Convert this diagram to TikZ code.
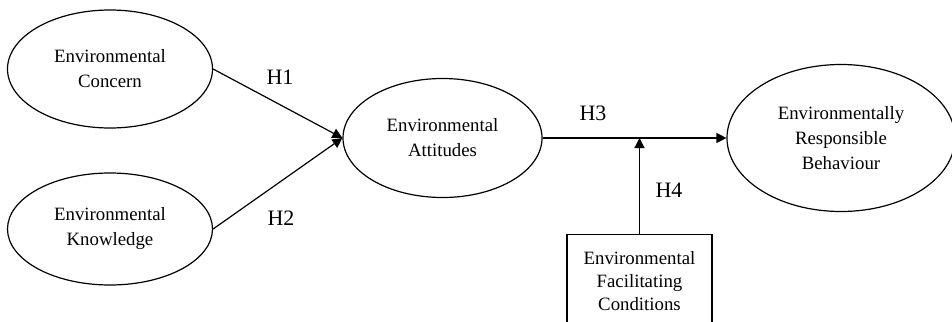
\documentclass[tikz,border=0pt]{standalone}
\usepackage{fontspec}
\setmainfont{Liberation Serif}
\usetikzlibrary{shapes.geometric}
\usetikzlibrary{arrows.meta}

\begin{document}
\begin{tikzpicture}[x=0.5pt,y=-0.5pt,
  construct/.style={ellipse,draw,semithick,inner sep=0pt,align=center,font=\fontsize{9.4}{12.5}\selectfont},
  hyp/.style={font=\fontsize{11}{13}\selectfont},
  path/.style={semithick,-{Triangle[length=5pt,width=5pt]}}]
\clip (0,0) rectangle (952,321);
\useasboundingbox (0,0) rectangle (952,321);

\node[construct,minimum width=102.5pt,minimum height=59pt] (conc) at (110,69) {Environmental\\Concern};
\node[construct,minimum width=102.5pt,minimum height=56pt] (know) at (110,229) {Environmental\\Knowledge};
\node[construct,minimum width=99.5pt,minimum height=59.5pt] (att) at (442.5,138) {Environmental\\Attitudes};
\node[construct,minimum width=114pt,minimum height=73.5pt] (resp) at (841,138) {Environmentally\\Responsible\\Behaviour};
\node[draw,semithick,anchor=north,align=center,minimum width=72.5pt,minimum height=46pt,font=\fontsize{9.4}{11.5}\selectfont] (fac) at (639.5,234) {Environmental\\Facilitating\\Conditions};

\draw[path] (conc.east) -- (att.west);
\draw[path] (know.east) -- (att.west);
\draw[path] (att.east) -- (resp.west);
\draw[path] (fac.north) -- (fac.north |- att.east);

\node[hyp] (h1) at (280,77) {H1};
\node[hyp] (h2) at (281,218) {H2};
\node[hyp] (h3) at (593,113) {H3};
\node[hyp] (h4) at (669,190) {H4};

\end{tikzpicture}
\end{document}
